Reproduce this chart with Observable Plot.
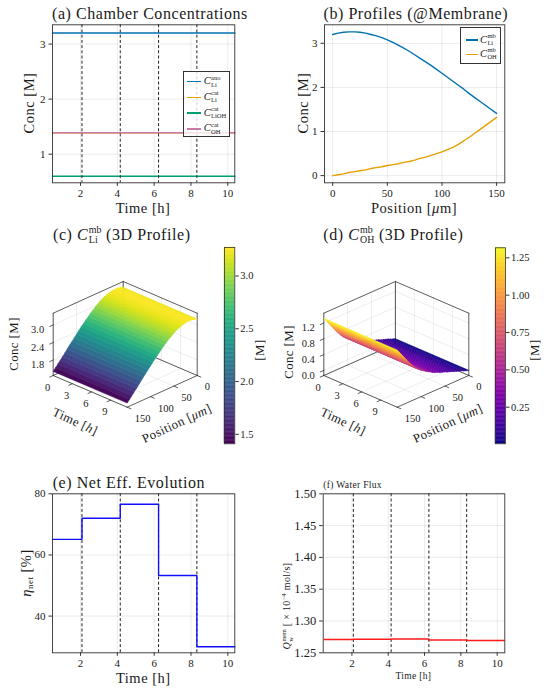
<!DOCTYPE html>
<html><head><meta charset="utf-8">
<script src="https://cdn.jsdelivr.net/npm/d3@7"></script>
<script src="https://cdn.jsdelivr.net/npm/@observablehq/plot@0.6"></script>
<style>
html,body{margin:0;padding:0;background:#fff;}
#page{position:relative;width:550px;height:692px;overflow:hidden;font-family:"Liberation Serif","DejaVu Serif",serif;color:#1a1a1a;background:#fff}
.lbl{position:absolute;white-space:nowrap;line-height:1;letter-spacing:0.035em}
.st{display:inline-flex;flex-direction:column;font-size:0.62em;line-height:1.05;vertical-align:0.72em;margin-left:0.06em;font-style:normal;letter-spacing:0}
.sb{font-size:0.62em;vertical-align:-0.28em;font-style:normal}
.sp{font-size:0.62em;vertical-align:0.6em}
.lg{position:absolute;background:rgba(255,255,255,0.8);border:1px solid #333;box-sizing:border-box}
.lgrow{position:absolute;left:0;display:flex;align-items:center;white-space:nowrap;line-height:1}
.lgline{position:absolute;height:1.6px;}
</style></head><body><div id="page"></div>
<script>
// ---------------- data ----------------
const cycleEnds = [2.08, 4.16, 6.24, 8.32];
const tStart = 0.48, tEnd = 10.38;
const timeTicks = [2, 4, 6, 8, 10];

// (a) chamber concentrations [M]
const chamberSup = ["ano", "cat", "cat", "cat"];
const chamberSub = ["Li", "Li", "LiOH", "OH"];
const chamberValues = [3.20, 1.39, 0.60, 1.39];
const chamberColors = ["#0072B2", "#E69F00", "#009E73", "#CC79A7"];

// (b) membrane profiles
const positions = [0,5,10,15,20,25,30,35,40,45,50,55,60,65,70,75,80,85,90,95,100,105,110,115,120,125,130,135,140,145,150];
const cLiMb = [3.20,3.23,3.25,3.26,3.26,3.25,3.23,3.20,3.17,3.13,3.08,3.02,2.96,2.89,2.82,2.74,2.66,2.58,2.50,2.41,2.32,2.23,2.14,2.05,1.96,1.86,1.77,1.68,1.59,1.50,1.41];
const cOhMb = [0.00,0.02,0.04,0.07,0.09,0.11,0.13,0.16,0.18,0.20,0.23,0.25,0.27,0.30,0.32,0.35,0.39,0.42,0.46,0.50,0.54,0.59,0.64,0.71,0.79,0.87,0.96,1.05,1.14,1.23,1.32];
const profColors = ["#0072B2", "#E69F00"];

// (c),(d) 3D
const time3dMax = 11.6;
const time3dTicks = [0, 3, 6, 9];
const pos3dTicks = [0, 50, 100, 150];

// (e) net efficiency [%]
const etaNet = [65.1, 72.0, 76.6, 53.3, 30.0];
// (f) water flux [x1e-4 mol/s]
const waterFlux = [1.2708, 1.2713, 1.2718, 1.2702, 1.2694];

// ---------------- helpers ----------------
const page = document.getElementById("page");
const W = 550, HH = 692;
const FONT = '"Liberation Serif","DejaVu Serif",serif';
const INK = "#1a1a1a", EDGE = "#333";
const mount = (el) => page.appendChild(el);
const baseStyle = (fs) => ({position:"absolute", left:"0px", top:"0px", background:"transparent", overflow:"visible", fontFamily:FONT, fontSize:fs+"px", color:INK});
const Cm = (sup, sub, base="C") => `<i>${base}</i><span class="st"><span>${sup}</span><span>${sub}</span></span>`;

function text(html, x, y, o = {}) {
  const {size = 14.5, rotate = 0, anchor = "middle"} = o;
  const d = document.createElement("div");
  d.className = "lbl"; d.innerHTML = html; d.style.fontSize = size + "px";
  d.style.left = x + "px"; d.style.top = y + "px";
  const tx = anchor === "start" ? "0%" : anchor === "end" ? "-100%" : "-50%";
  d.style.transform = `translate(${tx},-50%) rotate(${rotate}deg)`;
  page.appendChild(d);
}

function legend(box, rows, colors, o) {
  const d = document.createElement("div");
  d.className = "lg";
  Object.assign(d.style, {left: box[0]+"px", top: box[1]+"px", width: box[2]+"px", height: box[3]+"px"});
  rows.forEach((html, i) => {
    const ln = document.createElement("div");
    ln.className = "lgline";
    Object.assign(ln.style, {left: o.lx0+"px", width: (o.lx1-o.lx0)+"px", top: (o.y0 + i*o.dy - 0.8)+"px", background: colors[i]});
    d.appendChild(ln);
    const t = document.createElement("div");
    t.className = "lgrow"; t.innerHTML = html;
    Object.assign(t.style, {left: o.tx+"px", top: (o.y0 + i*o.dy)+"px", transform:"translateY(-50%)", fontSize: o.fs+"px"});
    d.appendChild(t);
  });
  page.appendChild(d);
}

function panel2d(o) {
  const marks = [
    Plot.gridX({ticks: o.xTicks, stroke: "#000", strokeOpacity: 0.1, strokeWidth: 0.8}),
    Plot.gridY({ticks: o.yTicks, stroke: "#000", strokeOpacity: 0.1, strokeWidth: 0.8}),
    ...o.marks,
    Plot.frame({stroke: EDGE, strokeWidth: 0.9}),
    Plot.axisX({ticks: o.xTicks, tickSize: 3.5, tickPadding: 2.5, tickFormat: o.xFormat || "d", label: null, stroke: EDGE, fill: INK, fontSize: o.xFs || 11}),
    Plot.axisY({ticks: o.yTicks, tickSize: 3.5, tickPadding: 3.5, tickFormat: o.yFormat || "d", label: null, stroke: EDGE, fill: INK, fontSize: o.yFs || 11})
  ];
  mount(Plot.plot({
    width: W, height: HH,
    marginLeft: o.l, marginRight: W - o.r, marginTop: o.t, marginBottom: HH - o.b,
    x: {domain: o.xd}, y: {domain: o.yd},
    color: o.color,
    style: baseStyle(11),
    marks
  }));
}

function stepRows(values) {
  const starts = [tStart, ...cycleEnds];
  const rows = starts.map((t, i) => ({t, v: values[i]}));
  rows.push({t: tEnd, v: values[values.length - 1]});
  return rows;
}

function panel3d(o) {
  const {B, eT, eP, H, T, P, zr} = o;
  const pr = (t, p, z) => {
    const zn = (z - zr[0]) / (zr[1] - zr[0]);
    return {u: t/T*eT[0] + p/P*eP[0], v: -(t/T*eT[1] + p/P*eP[1]) + zn*H};
  };
  const z0 = zr[0], z1 = zr[1];
  let k = 0;
  const seg = (a, b) => { const id = k++; return [{id, ...pr(...a)}, {id, ...pr(...b)}]; };
  const grid = [];
  for (const t of o.tTicks) grid.push(...seg([t,0,z0],[t,P,z0]), ...seg([t,0,z0],[t,0,z1]));
  for (const p of o.pTicks) grid.push(...seg([0,p,z0],[T,p,z0]), ...seg([0,p,z0],[0,p,z1]));
  for (const z of o.zTicks) grid.push(...seg([0,0,z],[0,P,z]), ...seg([0,0,z],[T,0,z]));
  const c = {B:[0,0,z0], L:[0,P,z0], F:[T,P,z0], R:[T,0,z0], Bt:[0,0,z1], Lt:[0,P,z1], Rt:[T,0,z1]};
  const edges = [];
  for (const [a, b] of [["B","L"],["R","B"],["B","Bt"],["L","Lt"],["R","Rt"],["Bt","Lt"],["Bt","Rt"],["L","F"],["F","R"]]) edges.push(...seg(c[a], c[b]));
  const ticks = [];
  for (const t of o.tTicks) ticks.push(...seg([t,P,z0],[t,P*1.05,z0]));
  for (const p of o.pTicks) ticks.push(...seg([T,p,z0],[T*1.05,p,z0]));
  for (const z of o.zTicks) ticks.push(...seg([0,P,z],[0,P*1.05,z]));
  const tLab = o.tTicks.map(t => ({...pr(t,P,z0), s: String(t)}));
  const pLab = o.pTicks.map(p => ({...pr(T,p,z0), s: String(p)}));
  const zLab = o.zTicks.map(z => ({...pr(0,P,z), s: d3.format(".1f")(z)}));
  const surf = [];
  const pos = o.positions, vals = o.values;
  for (let i = 0; i < pos.length - 1; i++) {
    const val = (vals[i] + vals[i+1]) / 2;
    const pts = [[0,pos[i],vals[i]],[0,pos[i+1],vals[i+1]],[T,pos[i+1],vals[i+1]],[T,pos[i],vals[i]],[0,pos[i],vals[i]]];
    for (const q of pts) surf.push({id: i, val, ...pr(...q)});
  }
  mount(Plot.plot({
    width: W, height: HH,
    marginLeft: B[0]-100, marginRight: W-(B[0]+100), marginTop: B[1]-100, marginBottom: HH-(B[1]+100),
    x: {domain: [-100, 100], axis: null}, y: {domain: [-100, 100], axis: null},
    color: {type: "linear", scheme: o.scheme, domain: o.cdomain},
    style: baseStyle(10.5),
    marks: [
      Plot.line(grid, {x: "u", y: "v", z: "id", stroke: "#000", strokeOpacity: 0.1, strokeWidth: 0.7}),
      Plot.line(edges, {x: "u", y: "v", z: "id", stroke: EDGE, strokeWidth: 0.8}),
      Plot.line(ticks, {x: "u", y: "v", z: "id", stroke: EDGE, strokeWidth: 0.8}),
      Plot.text(tLab, {x: "u", y: "v", text: "s", textAnchor: "end", dx: -3, dy: 12, fill: INK, fontSize: 10.5}),
      Plot.text(pLab, {x: "u", y: "v", text: "s", textAnchor: "start", dx: 7.5, dy: 11.5, fill: INK, fontSize: 10.5}),
      Plot.text(zLab, {x: "u", y: "v", text: "s", textAnchor: "end", dx: -9, dy: 5, fill: INK, fontSize: 10.5}),
      Plot.line(surf, {x: "u", y: "v", z: "id", fill: "val", stroke: "val", strokeWidth: 0.5})
    ]
  }));
}

function colorbar(o) {
  const n = 150, [lo, hi] = o.domain;
  const bands = d3.range(n).map(i => ({y1: lo + (hi-lo)*i/n, y2: lo + (hi-lo)*(i+1)/n}));
  mount(Plot.plot({
    width: W, height: HH,
    marginLeft: o.l, marginRight: W - o.r, marginTop: o.t, marginBottom: HH - o.b,
    x: {domain: [0, 1], axis: null}, y: {domain: o.domain},
    color: {type: "linear", scheme: o.scheme, domain: o.domain},
    style: baseStyle(10.5),
    marks: [
      Plot.rect(bands, {x1: 0, x2: 1, y1: "y1", y2: "y2", fill: d => (d.y1+d.y2)/2, stroke: d => (d.y1+d.y2)/2, strokeWidth: 0.4}),
      Plot.frame({stroke: EDGE, strokeWidth: 0.8}),
      Plot.axisY({anchor: "right", ticks: o.ticks, tickFormat: o.fmt, tickSize: 3.5, tickPadding: 2, label: null, stroke: EDGE, fill: INK, fontSize: 10.5})
    ]
  }));
}

// ---------------- (a) ----------------
const chamberNames = chamberSub.map((s, i) => chamberSup[i] + "_" + s);
const chamberRows = chamberNames.flatMap((n, i) => [{s: n, t: tStart, c: chamberValues[i]}, {s: n, t: tEnd, c: chamberValues[i]}]);
panel2d({
  l: 52, r: 234.3, t: 24.3, b: 182.3, xd: [tStart, tEnd], yd: [0.48, 3.35],
  xTicks: timeTicks, yTicks: [1, 2, 3],
  color: {domain: chamberNames, range: chamberColors},
  marks: [
    Plot.line(chamberRows, {x: "t", y: "c", z: "s", stroke: "s", strokeWidth: 1.4}),
    Plot.ruleX(cycleEnds, {stroke: "#222", strokeDasharray: "3,2.2", strokeWidth: 1})
  ]
});
// ---------------- (b) ----------------
const profRows = [
  ...positions.map((p, i) => ({s: "Li", p, c: cLiMb[i]})),
  ...positions.map((p, i) => ({s: "OH", p, c: cOhMb[i]}))
];
panel2d({
  l: 324, r: 504.3, t: 24.3, b: 182.3, xd: [-7.5, 157.5], yd: [-0.163, 3.42],
  xTicks: [0, 50, 100, 150], yTicks: [0, 1, 2, 3],
  color: {domain: ["Li", "OH"], range: profColors},
  marks: [Plot.line(profRows, {x: "p", y: "c", z: "s", stroke: "s", strokeWidth: 1.4})]
});
// ---------------- (c) ----------------
panel3d({
  B: [122.7, 343.3], eT: [74, 31.7], eP: [-70, 31.7], H: 62.3, T: time3dMax, P: 150, zr: [1.27, 3.40],
  tTicks: time3dTicks, pTicks: pos3dTicks, zTicks: [1.8, 2.4, 3.0],
  positions, values: cLiMb, scheme: "viridis", cdomain: [1.41, 3.27]
});
colorbar({l: 224, r: 234.3, t: 247, b: 443.3, domain: [1.41, 3.27], scheme: "viridis", ticks: [1.5, 2.0, 2.5, 3.0], fmt: ".1f"});
// ---------------- (d) ----------------
panel3d({
  B: [394.9, 343.3], eT: [73.4, 31.7], eP: [-71.6, 31.7], H: 62.3, T: time3dMax, P: 150, zr: [-0.13, 1.45],
  tTicks: time3dTicks, pTicks: pos3dTicks, zTicks: [0.0, 0.4, 0.8, 1.2],
  positions, values: cOhMb, scheme: "plasma", cdomain: [0.005, 1.317]
});
colorbar({l: 495, r: 505, t: 247.3, b: 443.3, domain: [0.005, 1.317], scheme: "plasma", ticks: [0.25, 0.5, 0.75, 1.0, 1.25], fmt: ".2f"});
// ---------------- (e) ----------------
panel2d({
  l: 52, r: 234.3, t: 493.3, b: 652.3, xd: [tStart, tEnd], yd: [28, 80],
  xTicks: timeTicks, yTicks: [40, 60, 80],
  marks: [
    Plot.ruleX(cycleEnds, {stroke: "#222", strokeDasharray: "3,2.2", strokeWidth: 1}),
    Plot.line(stepRows(etaNet), {x: "t", y: "v", curve: "step-after", stroke: "#1010ff", strokeWidth: 1.4})
  ]
});
// ---------------- (f) ----------------
panel2d({
  l: 322.7, r: 504.3, t: 493.3, b: 652.3, xd: [0.42, 10.42], yd: [1.25, 1.50],
  xTicks: timeTicks, yTicks: [1.25, 1.30, 1.35, 1.40, 1.45, 1.50], yFormat: ".2f", yFs: 12.5,
  marks: [
    Plot.ruleX(cycleEnds, {stroke: "#222", strokeDasharray: "3,2.2", strokeWidth: 1}),
    Plot.line(stepRows(waterFlux), {x: "t", y: "v", curve: "step-after", stroke: "#ff1a1a", strokeWidth: 1.6})
  ]
});

// ---------------- texts ----------------
text("(a) Chamber Concentrations", 52, 13.5, {anchor: "start", size: 16});
text("(b) Profiles (@Membrane)", 323.5, 13.5, {anchor: "start", size: 16});
text(`(c) ${Cm("mb", "Li")} (3D Profile)`, 53, 235, {anchor: "start", size: 16});
text(`(d) ${Cm("mb", "OH")} (3D Profile)`, 323.3, 235, {anchor: "start", size: 16});
text("(e) Net Eff. Evolution", 52.7, 483, {anchor: "start", size: 16});
text("(f) Water Flux", 323.3, 486, {anchor: "start", size: 9.5});

text("Conc [M]", 29, 103, {rotate: -90});
text("Time [h]", 143, 208);
text("Conc [M]", 303.3, 103, {rotate: -90});
text("Position [<i>μ</i>m]", 414, 208);

text("Conc [M]", 14, 344, {rotate: -90, size: 12.8});
text("Time [<i>h</i>]", 75, 421.7, {rotate: 25, size: 12.8});
text("Position [<i>μm</i>]", 177, 424, {rotate: -25, size: 12.8});
text("[M]", 260, 350, {rotate: -90, size: 12.8});

text("Conc [M]", 289, 352, {rotate: -90, size: 12.8});
text("Time [<i>h</i>]", 343.3, 421.7, {rotate: 25, size: 12.8});
text("Position [<i>μm</i>]", 448.3, 424, {rotate: -25, size: 12.8});
text("[M]", 535, 350, {rotate: -90, size: 12.8});

text(`<i>η</i><span class="sb">net</span> [%]`, 26.7, 573, {rotate: -90});
text("Time [h]", 143.3, 678);
text(`${Cm("mem", "w", "Q")} [ × 10<span class="sp">−4</span> mol/s]`, 286.7, 606, {rotate: -90, size: 10});
text("Time [h]", 413.3, 676.7, {size: 9.5});

// ---------------- legends ----------------
legend([182.7, 70.5, 47.6, 66], chamberSub.map((s, i) => Cm(chamberSup[i], s)), chamberColors,
  {lx0: 3.5, lx1: 17, tx: 20, y0: 10.2, dy: 15.7, fs: 10.5});
legend([460, 27, 41, 37], [Cm("mb", "Li"), Cm("mb", "OH")], profColors,
  {lx0: 4.5, lx1: 16.5, tx: 19, y0: 12, dy: 14.3, fs: 10.5});
</script></body></html>
